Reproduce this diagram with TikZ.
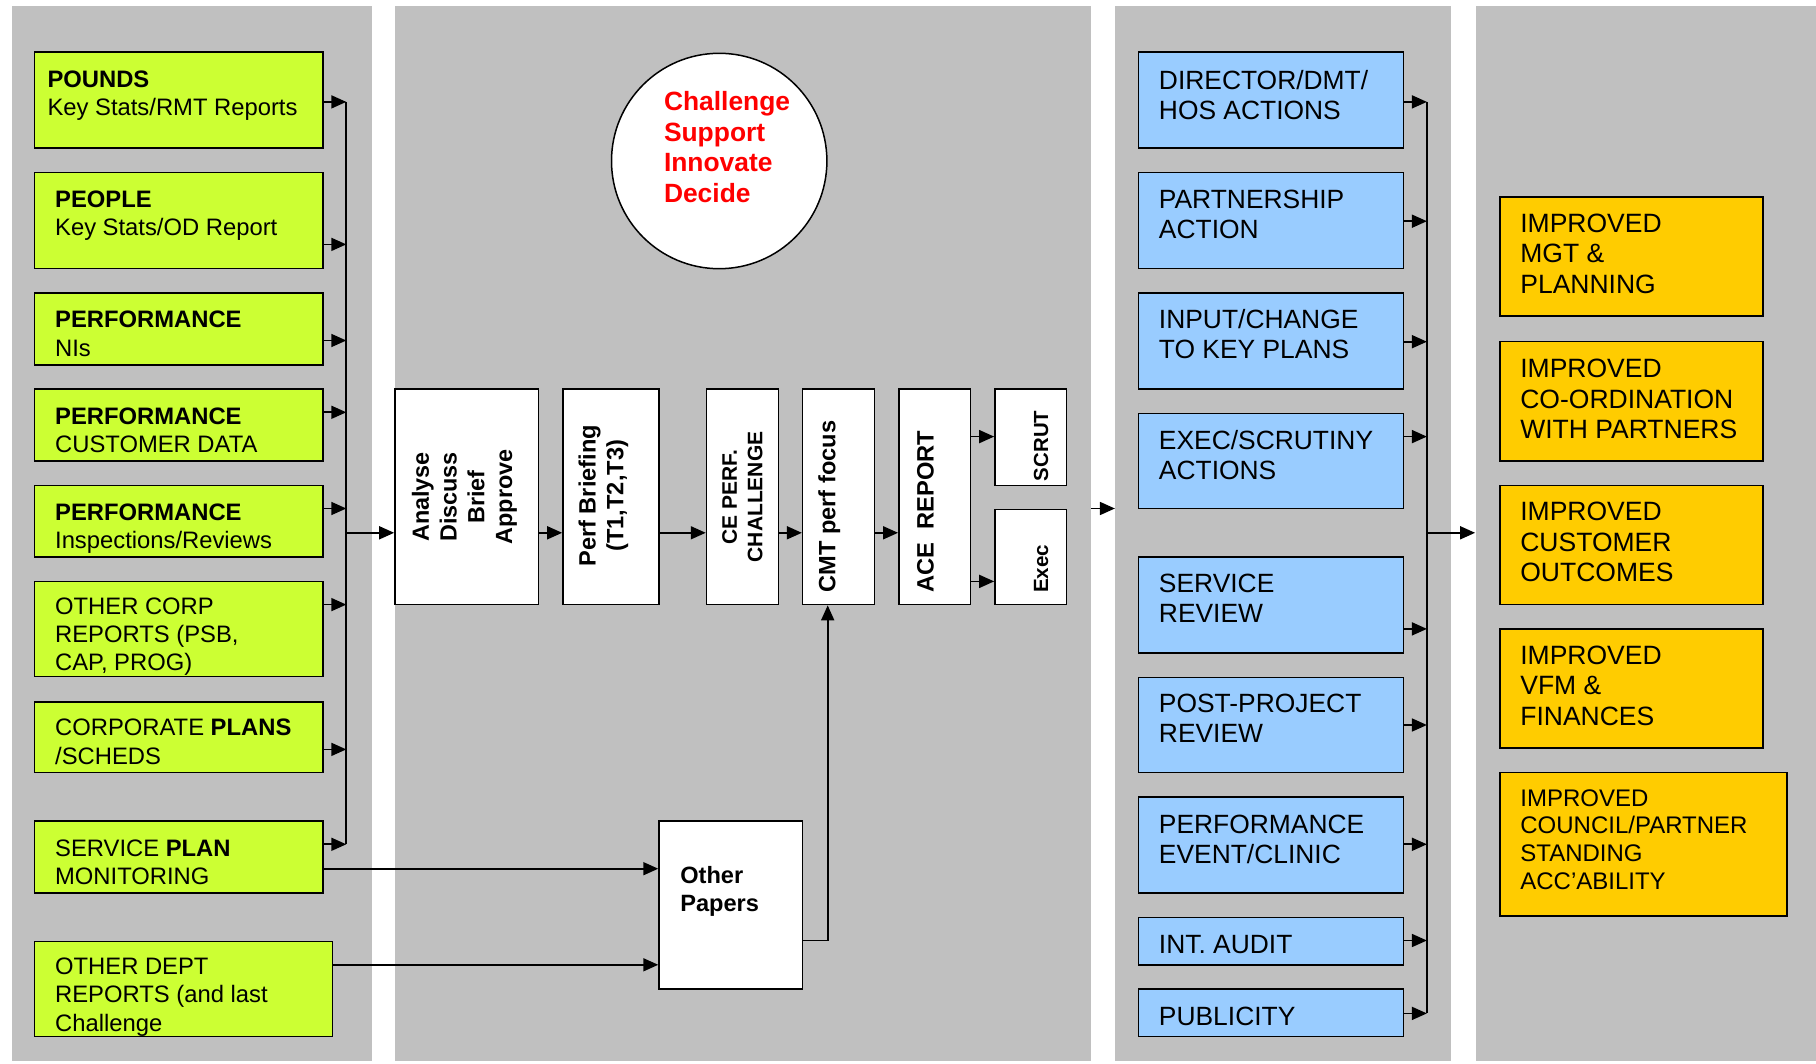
\documentclass[tikz,border=0pt]{standalone}
\usepackage{fontspec}
\setmainfont{Liberation Sans}
\usetikzlibrary{arrows.meta,fit}
\definecolor{panelgray}{HTML}{C0C0C0}
\definecolor{limeg}{HTML}{CCFF33}
\definecolor{skyb}{HTML}{99CCFF}
\definecolor{goldo}{HTML}{FFCC00}
\begin{document}
\begin{tikzpicture}[x=0.5pt,y=-0.5pt,
  panel/.style={fill=panelgray,draw=none,inner sep=0pt},
  basebox/.style={draw=black,line width=0.75pt,inner sep=0pt},
  gbox/.style={basebox,fill=limeg},
  bbox/.style={basebox,fill=skyb},
  obox/.style={basebox,fill=goldo},
  wbox/.style={basebox,fill=white},
  txt/.style={anchor=north west,inner sep=0pt,align=left},
  gtxt/.style={txt,font=\fontsize{11.9}{14.1}\selectfont},
  btxt/.style={txt,font=\fontsize{13.2}{15}\selectfont},
  otxt/.style={txt,font=\fontsize{13.25}{15.3}\selectfont},
  o5txt/.style={txt,font=\fontsize{12}{13.8}\selectfont},
  vtxt/.style={rotate=90,align=center,inner sep=0pt},
  ln/.style={line width=0.85pt},
  arr/.style={line width=0.85pt,-{Triangle[length=7.5pt,width=6.5pt]}}]
\path[use as bounding box,fill=white] (0,0) rectangle (1816,1064);

% panels
\node[panel,fit={(11.6,5.8) (371.8,1060.9)}] (P1) {};
\node[panel,fit={(394.9,5.8) (1091,1060.9)}] (P2) {};
\node[panel,fit={(1115.3,5.8) (1451.2,1060.9)}] (P3) {};
\node[panel,fit={(1475.5,5.8) (1816,1060.9)}] (P4) {};

% green boxes
\node[gbox,fit={(34.7,52.1) (323.1,148.2)}] (g1) {};
\node[gbox,fit={(34.7,172.6) (323.1,268.7)}] (g2) {};
\node[gbox,fit={(34.7,293.0) (323.1,364.8)}] (g3) {};
\node[gbox,fit={(34.7,389.2) (323.1,461.0)}] (g4) {};
\node[gbox,fit={(34.7,485.3) (323.1,557.1)}] (g5) {};
\node[gbox,fit={(34.7,581.4) (323.1,676.4)}] (g6) {};
\node[gbox,fit={(34.7,701.9) (323.1,772.5)}] (g7) {};
\node[gbox,fit={(34.7,821.2) (323.1,893.0)}] (g8) {};
\node[gbox,fit={(34.7,941.6) (332.4,1036.6)}] (g9) {};

\node[gtxt] (g1t) at ([shift={(6.6pt,-9.5pt)}]g1.north west) {\textbf{POUNDS}\\Key Stats/RMT Reports};
\node[gtxt] (g2t) at ([shift={(10.4pt,-9.3pt)}]g2.north west) {\textbf{PEOPLE}\\Key Stats/OD Report};
\node[gtxt] (g3t) at ([shift={(10.4pt,-9.3pt)}]g3.north west) {\textbf{PERFORMANCE}\\NIs};
\node[gtxt] (g4t) at ([shift={(10.4pt,-9.3pt)}]g4.north west) {\textbf{PERFORMANCE}\\CUSTOMER DATA};
\node[gtxt] (g5t) at ([shift={(10.4pt,-9.3pt)}]g5.north west) {\textbf{PERFORMANCE}\\Inspections/Reviews};
\node[gtxt] (g6t) at ([shift={(10.4pt,-8.4pt)}]g6.north west) {OTHER CORP\\REPORTS (PSB,\\CAP, PROG)};
\node[gtxt] (g7t) at ([shift={(10.4pt,-8.9pt)}]g7.north west) {CORPORATE \textbf{PLANS}\\/SCHEDS};
\node[gtxt] (g8t) at ([shift={(10.4pt,-9.3pt)}]g8.north west) {SERVICE \textbf{PLAN}\\MONITORING};
\node[gtxt] (g9t) at ([shift={(10.4pt,-8.4pt)}]g9.north west) {OTHER DEPT\\REPORTS (and last\\Challenge};

% left bus
\coordinate (lb1) at (346.3,101.9);
\coordinate (lb2) at (346.3,244.4);
\coordinate (lb3) at (346.3,340.5);
\coordinate (lb4) at (346.3,412.3);
\coordinate (lb5) at (346.3,508.5);
\coordinate (lb6) at (346.3,604.6);
\coordinate (lb7) at (346.3,749.4);
\coordinate (lb8) at (346.3,844.3);
\coordinate (lbo) at (346.3,532.8);
\draw[ln] (lb1) -- (lb8);
\foreach \i in {1,...,8} {\draw[arr] (g\i.east |- lb\i) -- (lb\i);}

% circle
\node[draw=black,line width=0.75pt,fill=white,circle,minimum size=107.7pt,inner sep=0pt] (circ) at (719.2,161.0) {};
\node[txt,text=red,font=\bfseries\fontsize{13.2}{15.2}\selectfont] (circt) at (663.6,91.3) {Challenge\\Support\\Innovate\\Decide};

% middle process boxes
\node[wbox,fit={(394.9,389.2) (538.6,604.6)}] (an) {};
\node[wbox,fit={(562.9,389.2) (659.0,604.6)}] (pb) {};
\node[wbox,fit={(706.5,389.2) (778.3,604.6)}] (ce) {};
\node[wbox,fit={(802.6,389.2) (874.4,604.6)}] (cmt) {};
\node[wbox,fit={(898.8,389.2) (970.6,604.6)}] (ace) {};
\node[wbox,fit={(994.9,389.2) (1066.7,485.3)}] (scr) {};
\node[wbox,fit={(994.9,509.6) (1066.7,604.6)}] (exe) {};
\node[wbox,fit={(659.0,821.2) (802.6,989.1)}] (op) {};

\node[vtxt,font=\bfseries\fontsize{11.7}{13.9}\selectfont] (ant) at (464.4,496.9) {Analyse\\Discuss\\Brief\\Approve};
\node[vtxt,font=\bfseries\fontsize{11.8}{13.9}\selectfont] (pbt) at (603.4,495.7) {Perf Briefing\\(T1,T2,T3)};
\node[vtxt,font=\bfseries\fontsize{10.5}{12.7}\selectfont] (cet) at (742.4,496.9) {CE PERF.\\CHALLENGE};
\node[vtxt,font=\bfseries\fontsize{11.8}{13.9}\selectfont] (cmtt) at (829.3,506.7) {CMT perf focus};
\node[vtxt,font=\bfseries\fontsize{11.85}{13.9}\selectfont] (acet) at (925.4,511.9) {ACE~~REPORT};
\node[vtxt,font=\bfseries\fontsize{10.2}{12}\selectfont] (scrt) at (1041.2,445.9) {SCRUT};
\node[vtxt,font=\bfseries\fontsize{10.3}{12}\selectfont] (exet) at (1041.2,568.7) {Exec};
\node[txt,font=\bfseries\fontsize{11.8}{13.9}\selectfont] (opt) at (679.9,865.9) {Other\\Papers};

\coordinate (ym) at (0,532.8);
\coordinate (ys) at (0,436.6);
\coordinate (ye) at (0,581.4);
\coordinate (yo1) at (0,868.7);
\coordinate (yo2) at (0,964.8);
\coordinate (yo3) at (0,940.5);
\coordinate (yb) at (0,508.5);
\draw[arr] (lbo) -- (an.west |- lbo);
\draw[arr] (an.east |- ym) -- (pb.west |- ym);
\draw[arr] (pb.east |- ym) -- (ce.west |- ym);
\draw[arr] (ce.east |- ym) -- (cmt.west |- ym);
\draw[arr] (cmt.east |- ym) -- (ace.west |- ym);
\draw[arr] (ace.east |- ys) -- (scr.west |- ys);
\draw[arr] (ace.east |- ye) -- (exe.west |- ye);
\draw[arr] (g8.east |- yo1) -- (op.west |- yo1);
\draw[arr] (g9.east |- yo2) -- (op.west |- yo2);
\draw[arr] (op.east |- yo3) -| ([xshift=-5.4pt]cmt.south);
\draw[arr] (P2.east |- yb) -- (P3.west |- yb);

% blue boxes
\node[bbox,fit={(1138.5,52.1) (1403.7,148.2)}] (b1) {};
\node[bbox,fit={(1138.5,172.6) (1403.7,268.7)}] (b2) {};
\node[bbox,fit={(1138.5,293.0) (1403.7,389.2)}] (b3) {};
\node[bbox,fit={(1138.5,413.5) (1403.7,508.5)}] (b4) {};
\node[bbox,fit={(1138.5,557.1) (1403.7,653.2)}] (b5) {};
\node[bbox,fit={(1138.5,677.5) (1403.7,772.5)}] (b6) {};
\node[bbox,fit={(1138.5,796.8) (1403.7,893.0)}] (b7) {};
\node[bbox,fit={(1138.5,917.3) (1403.7,964.8)}] (b8) {};
\node[bbox,fit={(1138.5,989.1) (1403.7,1036.6)}] (b9) {};

\node[btxt] (b1t) at ([shift={(10.4pt,-9.4pt)}]b1.north west) {DIRECTOR/DMT/\\HOS ACTIONS};
\node[btxt] (b2t) at ([shift={(10.4pt,-9.1pt)}]b2.north west) {PARTNERSHIP\\ACTION};
\node[btxt] (b3t) at ([shift={(10.4pt,-8.6pt)}]b3.north west) {INPUT/CHANGE\\TO KEY PLANS};
\node[btxt] (b4t) at ([shift={(10.4pt,-8.6pt)}]b4.north west) {EXEC/SCRUTINY\\ACTIONS};
\node[btxt] (b5t) at ([shift={(10.4pt,-8.6pt)}]b5.north west) {SERVICE\\REVIEW};
\node[btxt] (b6t) at ([shift={(10.4pt,-8.6pt)}]b6.north west) {POST-PROJECT\\REVIEW};
\node[btxt] (b7t) at ([shift={(10.4pt,-9.1pt)}]b7.north west) {PERFORMANCE\\EVENT/CLINIC};
\node[btxt] (b8t) at ([shift={(10.4pt,-9.1pt)}]b8.north west) {INT. AUDIT};
\node[btxt] (b9t) at ([shift={(10.4pt,-9.1pt)}]b9.north west) {PUBLICITY};

% right bus
\coordinate (rb1) at (1426.9,101.9);
\coordinate (rb2) at (1426.9,221.2);
\coordinate (rb3) at (1426.9,341.7);
\coordinate (rb4) at (1426.9,436.6);
\coordinate (rb5) at (1426.9,628.9);
\coordinate (rb6) at (1426.9,725.0);
\coordinate (rb7) at (1426.9,844.3);
\coordinate (rb8) at (1426.9,940.5);
\coordinate (rb9) at (1426.9,1013.4);
\coordinate (rbo) at (1426.9,532.8);
\draw[ln] (rb1) -- (rb9);
\foreach \i in {1,...,9} {\draw[arr] (b\i.east |- rb\i) -- (rb\i);}
\draw[arr] (rbo) -- (P4.west |- rbo);

% orange boxes
\node[obox,fit={(1499.9,196.9) (1762.8,316.2)}] (o1) {};
\node[obox,fit={(1499.9,341.7) (1762.8,461.0)}] (o2) {};
\node[obox,fit={(1499.9,485.3) (1762.8,604.6)}] (o3) {};
\node[obox,fit={(1499.9,628.9) (1762.8,748.2)}] (o4) {};
\node[obox,fit={(1499.9,772.5) (1787.1,916.1)}] (o5) {};

\node[otxt] (o1t) at ([shift={(10.4pt,-8.5pt)}]o1.north west) {IMPROVED\\MGT \&\\PLANNING};
\node[otxt] (o2t) at ([shift={(10.4pt,-8.8pt)}]o2.north west) {IMPROVED\\CO-ORDINATION\\WITH PARTNERS};
\node[otxt] (o3t) at ([shift={(10.4pt,-8.5pt)}]o3.north west) {IMPROVED\\CUSTOMER\\OUTCOMES};
\node[otxt] (o4t) at ([shift={(10.4pt,-8.5pt)}]o4.north west) {IMPROVED\\VFM \&\\FINANCES};
\node[o5txt] (o5t) at ([shift={(10.4pt,-8.7pt)}]o5.north west) {IMPROVED\\COUNCIL/PARTNER\\STANDING\\ACC’ABILITY};
\end{tikzpicture}
\end{document}
